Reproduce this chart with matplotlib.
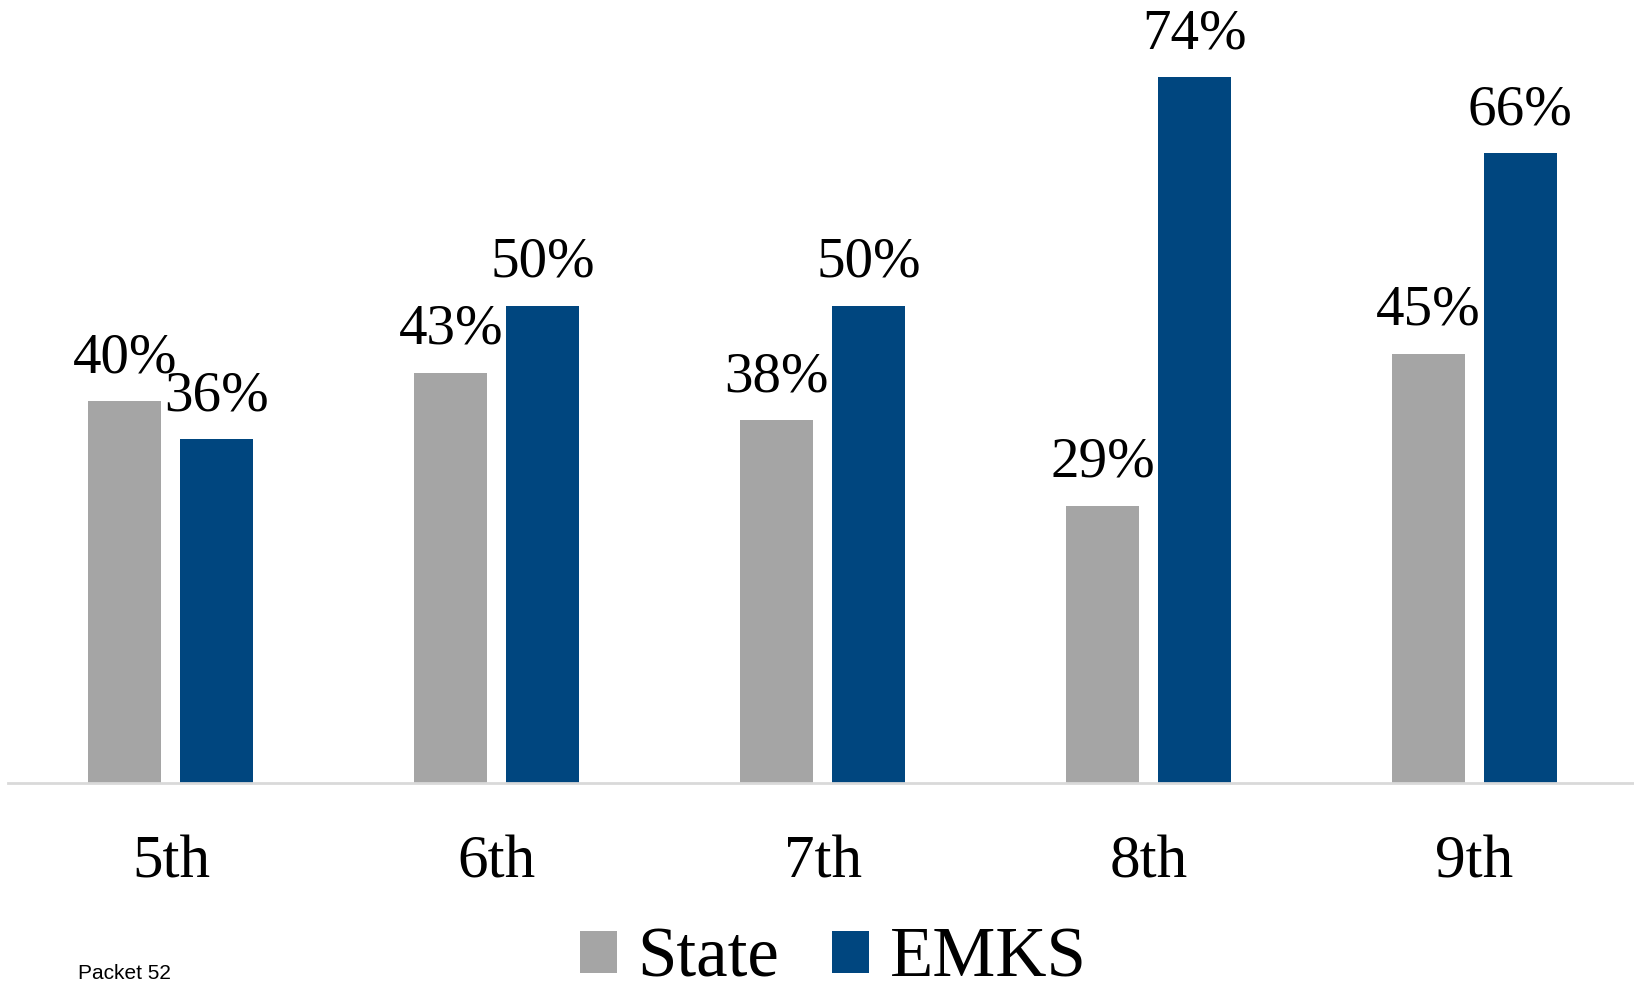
import matplotlib.pyplot as plt
import numpy as np

grades = ["5th", "6th", "7th", "8th", "9th"]
state = [40, 43, 38, 29, 45]
emks = [36, 50, 50, 74, 66]

GRAY = "#A5A5A5"
BLUE = "#00467F"

plt.rcParams["font.family"] = ["Liberation Serif", "DejaVu Serif"]

fig = plt.figure(figsize=(16.34, 9.83), dpi=100)
ax = fig.add_axes([8 / 1634, 200.4 / 983, 1 - 8 / 1634, 1 - 200.4 / 983])

x = np.arange(len(grades))
width = 0.224
offset = 0.141
bars_state = ax.bar(x - offset, state, width, color=GRAY, label="State")
bars_emks = ax.bar(x + offset, emks, width, color=BLUE, label="EMKS")

# value labels centred above each bar
for bars, vals in ((bars_state, state), (bars_emks, emks)):
    for b, v in zip(bars, vals):
        ax.annotate(f"{v}%", (b.get_x() + b.get_width() / 2, v),
                    xytext=(0, 21), textcoords="offset points",
                    ha="center", va="baseline", fontsize=41)

ax.set_xlim(-0.5, 4.49)
ax.set_ylim(0, 82.1)
ax.set_xticks(x)
ax.set_xticklabels(grades, fontsize=44)
ax.tick_params(axis="x", length=0, pad=38)
ax.set_yticks([])
for side in ("left", "right", "top"):
    ax.spines[side].set_visible(False)
ax.spines["bottom"].set_color("#D9D9D9")
ax.spines["bottom"].set_linewidth(2)

fig.legend(handles=[bars_state, bars_emks], loc="lower center",
           bbox_to_anchor=(0.51, -0.074), ncol=2, frameon=False,
           fontsize=51, handlelength=0.52, handleheight=0.52,
           handletextpad=0.29, columnspacing=0.75)

fig.text(78 / 1634, 0.0, "Packet 52", fontsize=15,
         family="Liberation Sans", va="bottom")

fig.savefig("out.png")
